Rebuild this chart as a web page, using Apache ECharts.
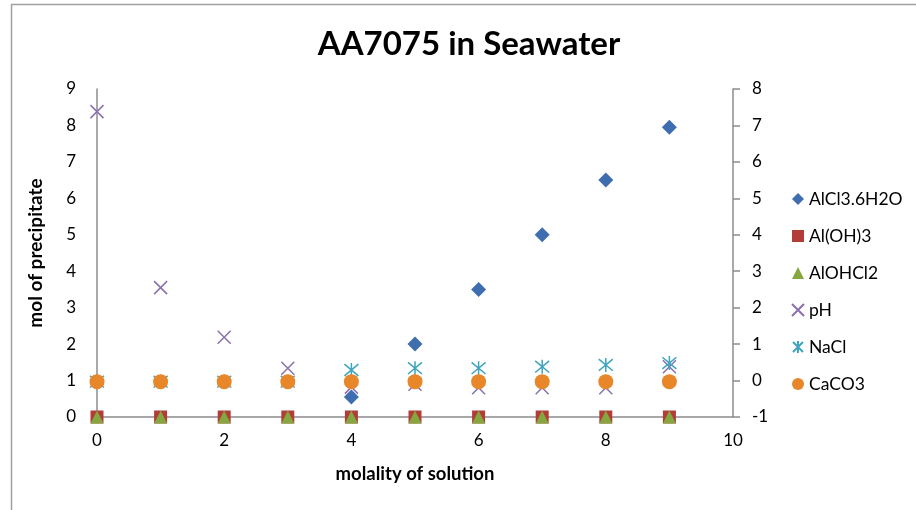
<!DOCTYPE html>
<html>
<head>
<meta charset="utf-8">
<script src="https://cdn.jsdelivr.net/npm/echarts@6/dist/echarts.min.js"></script>
<style>
html,body{margin:0;padding:0;background:#fff;}
#chart{width:916px;height:510px;}
</style>
</head>
<body>
<div id="chart"></div>
<script>
// ---- data ----
const molality = [0, 1, 2, 3, 4, 5, 6, 7, 8, 9];
const alcl3_6h2o = [null, null, null, null, 0.55, 2.0, 3.5, 5.0, 6.5, 7.95]; // left axis
const aloh3 = [0, 0, 0, 0, 0, 0, 0, 0, 0, 0];                                  // left axis
const alohcl2 = [0, 0, 0, 0, 0, 0, 0, 0, 0, 0];                                // left axis
const pH = [8.38, 3.55, 2.19, 1.34, 0.82, 0.9, 0.8, 0.8, 0.8, 1.38];          // left axis
const nacl = [-0.03, -0.03, -0.03, -0.03, 0.29, 0.34, 0.34, 0.38, 0.43, 0.48]; // right axis
const caco3 = [-0.03, -0.03, -0.03, -0.03, -0.03, -0.03, -0.03, -0.03, -0.03, -0.03]; // right axis
const leftTicks = {min: 0, max: 9, interval: 1};
const rightTicks = {min: -1, max: 8, interval: 1};
const xTicks = {min: 0, max: 10, interval: 2};

const pair = arr => molality.map((x, i) => [x, arr[i]]).filter(p => p[1] !== null);

const FONT = 'Lato, "Open Sans", sans-serif';
const axisLineColor = '#8c8c8c';
const txt = '#000';
const chart = echarts.init(document.getElementById('chart'));

const xPath = 'path://M0,0L10,10M10,0L0,10';
const starPath = 'path://M0,0L10,10M10,0L0,10M5,-1L5,11';

chart.setOption({
  animation: false,
  backgroundColor: '#fff',
  title: {
    text: 'AA7075 in Seawater',
    left: 464, top: 23, textAlign: 'center',
    textStyle: {fontFamily: FONT, fontWeight: 'bold', fontSize: 33, color: txt}
  },
  graphic: [{
    type: 'rect', shape: {x: 11.5, y: 4.5, width: 920, height: 520},
    style: {fill: 'none', stroke: '#a0a0a0', lineWidth: 1.5}, z: -1
  }],
  legend: {
    orient: 'vertical', left: 786, top: 185, itemGap: 19,
    itemWidth: 12, itemHeight: 12,
    textStyle: {fontFamily: FONT, fontSize: 17.5, color: txt},
    data: ['AlCl3.6H2O', 'Al(OH)3', 'AlOHCl2', 'pH', 'NaCl', 'CaCO3']
  },
  grid: {left: 97, right: 183, top: 89, bottom: 93},
  xAxis: {
    type: 'value', min: xTicks.min, max: xTicks.max, interval: xTicks.interval,
    name: 'molality of solution', nameLocation: 'middle', nameGap: 48,
    nameTextStyle: {fontFamily: FONT, fontWeight: 'bold', fontSize: 18.5, color: txt},
    axisLine: {show: true, onZero: false, lineStyle: {color: axisLineColor, width: 1.5}},
    axisTick: {show: false},
    axisLabel: {fontFamily: FONT, fontSize: 17, color: txt, margin: 15},
    splitLine: {show: false}
  },
  yAxis: [{
    type: 'value', min: leftTicks.min, max: leftTicks.max, interval: leftTicks.interval,
    name: 'mol of precipitate', nameLocation: 'middle', nameGap: 52,
    nameTextStyle: {fontFamily: FONT, fontWeight: 'bold', fontSize: 19, color: txt},
    axisLine: {show: true, lineStyle: {color: axisLineColor, width: 1.5}},
    axisTick: {show: false},
    axisLabel: {fontFamily: FONT, fontSize: 17, color: txt, margin: 21},
    splitLine: {show: false}
  }, {
    type: 'value', position: 'right', min: rightTicks.min, max: rightTicks.max, interval: rightTicks.interval,
    axisLine: {show: true, lineStyle: {color: axisLineColor, width: 1.5}},
    axisTick: {show: true, inside: false, length: 7, lineStyle: {color: axisLineColor, width: 1.5}},
    axisLabel: {fontFamily: FONT, fontSize: 17, color: txt, margin: 19},
    splitLine: {show: false}
  }],
  series: [
    {name: 'AlCl3.6H2O', type: 'scatter', yAxisIndex: 0, data: pair(alcl3_6h2o),
     symbol: 'diamond', symbolSize: 15, itemStyle: {color: '#3f6eb0', opacity: 1}},
    {name: 'Al(OH)3', type: 'scatter', yAxisIndex: 0, data: pair(aloh3),
     symbol: 'rect', symbolSize: 13, itemStyle: {color: '#b23c38', opacity: 1}},
    {name: 'AlOHCl2', type: 'scatter', yAxisIndex: 0, data: pair(alohcl2),
     symbol: 'triangle', symbolSize: [13, 13], itemStyle: {color: '#84a83f', opacity: 1}},
    {name: 'pH', type: 'scatter', yAxisIndex: 0, data: pair(pH),
     symbol: xPath, symbolSize: 13,
     itemStyle: {color: 'rgba(0,0,0,0)', borderColor: '#8a70ae', borderWidth: 1.5, opacity: 1}},
    {name: 'NaCl', type: 'scatter', yAxisIndex: 1, data: pair(nacl),
     symbol: starPath, symbolSize: 14,
     itemStyle: {color: 'rgba(0,0,0,0)', borderColor: '#3ea4bf', borderWidth: 1.5, opacity: 1}},
    {name: 'CaCO3', type: 'scatter', yAxisIndex: 1, data: pair(caco3),
     symbol: 'circle', symbolSize: 15, itemStyle: {color: '#e8862a', opacity: 1}}
  ]
});
</script>
</body>
</html>
